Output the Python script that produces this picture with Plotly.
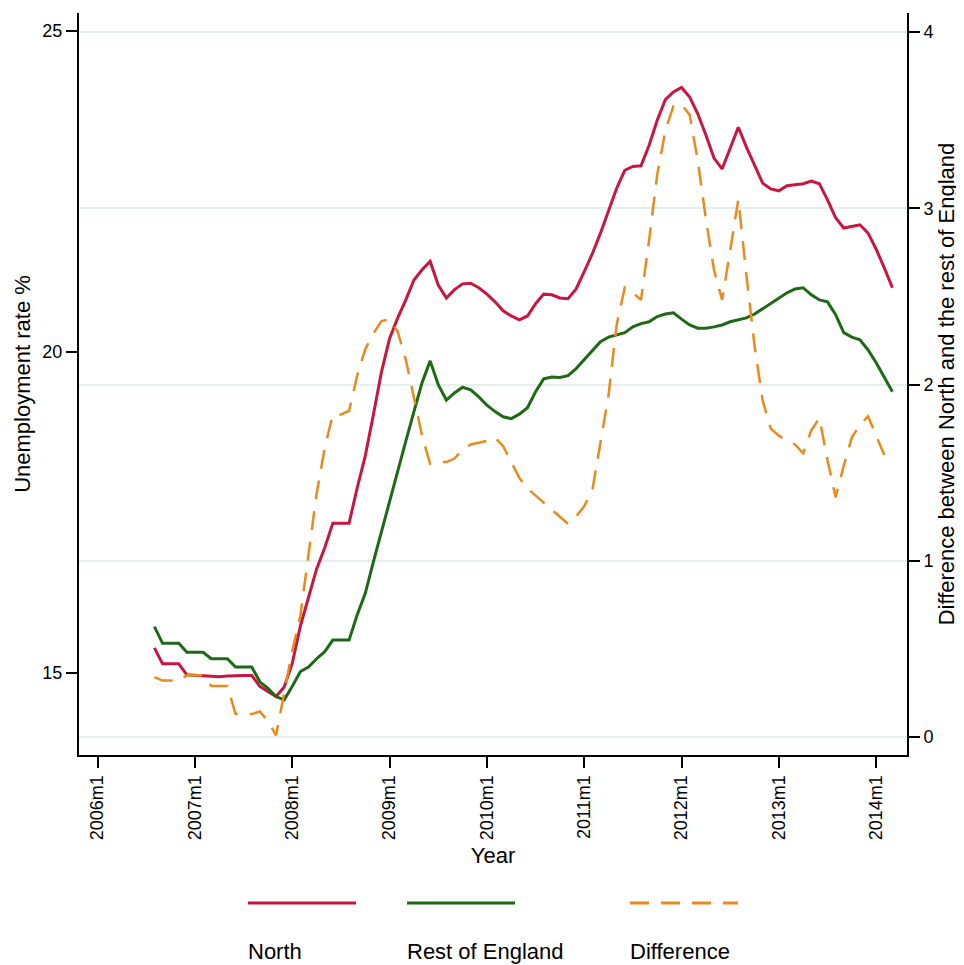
import plotly.graph_objects as go

# month index: 0 = 2006m1
months = list(range(7, 99))  # 2006m8 .. 2014m3

north = [15.39, 15.14, 15.14, 15.14, 14.97, 14.96, 14.95, 14.94, 14.94, 14.95,
         14.96, 14.96, 14.96, 14.79, 14.71, 14.63, 14.78, 15.15, 15.73, 16.19,
         16.62, 16.95, 17.33, 17.33, 17.33, 17.88, 18.38, 19.02, 19.69, 20.21,
         20.53, 20.81, 21.12, 21.28, 21.41, 21.04, 20.84, 20.97, 21.06, 21.07,
         21.00, 20.90, 20.78, 20.64, 20.56, 20.50, 20.56, 20.75, 20.90, 20.89,
         20.84, 20.83, 20.98, 21.25, 21.53, 21.85, 22.21, 22.55, 22.83, 22.89,
         22.90, 23.22, 23.61, 23.93, 24.05, 24.12, 23.97, 23.71, 23.38, 23.02,
         22.85, 23.19, 23.50, 23.19, 22.90, 22.63, 22.54, 22.51, 22.59, 22.60,
         22.62, 22.66, 22.62, 22.37, 22.09, 21.93, 21.95, 21.98, 21.85, 21.60,
         21.31, 21.00]

rest = [15.72, 15.46, 15.46, 15.46, 15.32, 15.32, 15.32, 15.22, 15.22, 15.22,
        15.09, 15.09, 15.09, 14.86, 14.76, 14.63, 14.58, 14.79, 15.02, 15.09,
        15.22, 15.33, 15.51, 15.51, 15.51, 15.90, 16.24, 16.73, 17.21, 17.69,
        18.15, 18.61, 19.07, 19.52, 19.86, 19.49, 19.25, 19.36, 19.45, 19.41,
        19.30, 19.17, 19.07, 18.99, 18.96, 19.03, 19.13, 19.38, 19.58, 19.61,
        19.60, 19.63, 19.74, 19.88, 20.03, 20.16, 20.23, 20.26, 20.30, 20.39,
        20.44, 20.47, 20.55, 20.59, 20.61, 20.51, 20.42, 20.37, 20.37, 20.39,
        20.42, 20.47, 20.50, 20.53, 20.59, 20.67, 20.75, 20.84, 20.92, 20.98,
        21.00, 20.89, 20.81, 20.78, 20.58, 20.30, 20.23, 20.19, 20.03, 19.83,
        19.60, 19.38]

difference = [0.34, 0.32, 0.32, 0.32, 0.35, 0.35, 0.35, 0.29, 0.29, 0.29,
              0.13, 0.13, 0.13, 0.145, 0.09, 0.01, 0.24, 0.49, 0.69, 1.02,
              1.38, 1.64, 1.83, 1.83, 1.85, 2.05, 2.20, 2.29, 2.36, 2.37,
              2.30, 2.14, 1.93, 1.71, 1.55, 1.56, 1.56, 1.58, 1.63, 1.66,
              1.67, 1.68, 1.70, 1.65, 1.56, 1.47, 1.41, 1.37, 1.33, 1.29,
              1.25, 1.21, 1.25, 1.31, 1.40, 1.68, 1.94, 2.34, 2.55, 2.52,
              2.48, 2.82, 3.19, 3.44, 3.58, 3.59, 3.53, 3.27, 2.94, 2.65,
              2.48, 2.76, 3.05, 2.62, 2.22, 1.91, 1.75, 1.71, 1.68, 1.66,
              1.61, 1.74, 1.81, 1.57, 1.36, 1.54, 1.70, 1.77, 1.82, 1.71,
              1.60, None]

tick_vals = [0, 12, 24, 36, 48, 60, 72, 84, 96]
tick_text = ["2006m1", "2007m1", "2008m1", "2009m1", "2010m1",
             "2011m1", "2012m1", "2013m1", "2014m1"]

series_names = ["North", "Rest of England", "Difference"]
RED = "#c8163f"
GREEN = "#1c6a14"
ORANGE = "#e88a1c"
DASH = "19px,12px"
FONT = "Liberation Sans, Arial, Helvetica, sans-serif"

fig = go.Figure()
fig.add_trace(go.Scatter(x=months, y=north, mode="lines", name=series_names[0],
                         line=dict(color=RED, width=3), yaxis="y"))
fig.add_trace(go.Scatter(x=months, y=rest, mode="lines", name=series_names[1],
                         line=dict(color=GREEN, width=3), yaxis="y"))
fig.add_trace(go.Scatter(x=months, y=difference, mode="lines", name=series_names[2],
                         line=dict(color=ORANGE, width=2.5, dash=DASH),
                         yaxis="y2"))

# page body has an 8px default margin: figure is 8px smaller than the window
OFF = 8
W, H = 964 - OFF, 965 - OFF
L, R, T, B = 71, 57, 5, 210
pw, ph = W - L - R, H - T - B


def px(xs):  # screen x -> paper
    return (xs - OFF - L) / pw


def py(ys):  # screen y -> paper
    return (H - B - (ys - OFF)) / ph


# custom legend (Stata style: sample above label)
legend_items = [(248, 356, RED, "solid", series_names[0]),
                (407, 515, GREEN, "solid", series_names[1]),
                (630, 738, ORANGE, DASH, series_names[2])]
shapes = []
annotations = []
for x0, x1, col, dash, label in legend_items:
    shapes.append(dict(type="line", xref="paper", yref="paper",
                       x0=px(x0), x1=px(x1), y0=py(903), y1=py(903),
                       line=dict(color=col, width=3, dash=dash)))
    annotations.append(dict(xref="paper", yref="paper", x=px(x0) - 0.002, y=py(951),
                            text=label, showarrow=False, xanchor="left",
                            yanchor="middle",
                            font=dict(family=FONT, size=22, color="black")))

axis_common = dict(zeroline=False, showline=True, linecolor="black", linewidth=2,
                   ticks="outside", ticklen=11, tickwidth=1.5, tickcolor="black",
                   tickfont=dict(size=18), automargin=False)

fig.update_layout(
    width=W, height=H,
    margin=dict(l=L, r=R, t=T, b=B, autoexpand=False),
    paper_bgcolor="white", plot_bgcolor="white",
    showlegend=False,
    font=dict(family=FONT, size=18, color="black"),
    xaxis=dict(range=[-2.3, 99.8], tickvals=tick_vals, ticktext=tick_text,
               tickangle=-90, showgrid=False,
               title=dict(text="Year", font=dict(size=22), standoff=8),
               **axis_common),
    yaxis=dict(range=[13.72, 25.28], tickvals=[15, 20, 25], showgrid=False,
               title=dict(text="Unemployment rate %", font=dict(size=22),
                          standoff=6),
               **axis_common),
    yaxis2=dict(range=[-0.102, 4.108], tickvals=[0, 1, 2, 3, 4], overlaying="y",
                side="right", showgrid=True, gridcolor="#e6efef", gridwidth=2,
                title=dict(text="Difference between North and the rest of England",
                           font=dict(size=22), standoff=4),
                **axis_common),
    shapes=shapes,
    annotations=annotations,
)

fig.write_html("out.html")
